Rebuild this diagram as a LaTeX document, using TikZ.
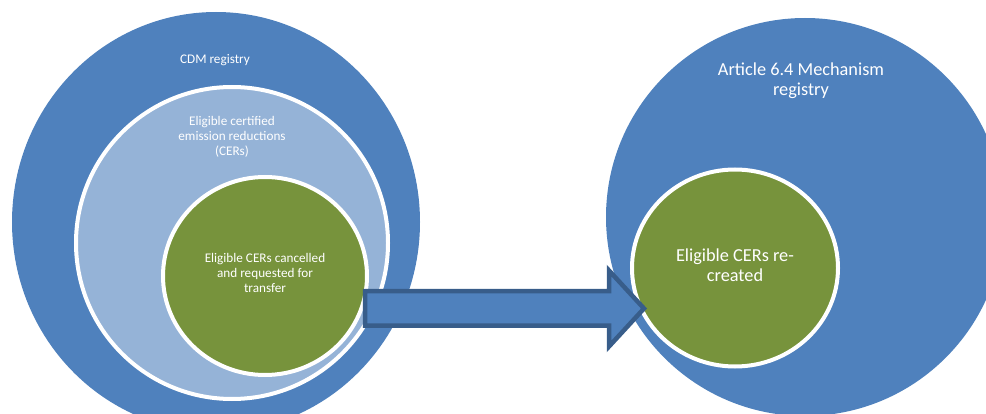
\documentclass[tikz,border=0pt]{standalone}
\usepackage{fontspec}
\setmainfont{Carlito}
\usetikzlibrary{shapes.geometric,calc}
\definecolor{regblue}{HTML}{4F81BD}
\definecolor{cerblue}{HTML}{95B3D7}
\definecolor{cergreen}{HTML}{77933C}
\definecolor{arrowblue}{HTML}{385D8A}
\begin{document}
\begin{tikzpicture}[x=1pt, y=-1pt,
    registry/.style={ellipse, fill=regblue, inner sep=0pt},
    pool/.style={circle, fill=cerblue, draw=white, line width=4pt, inner sep=0pt},
    eligible/.style={ellipse, fill=cergreen, draw=white, line width=4pt, inner sep=0pt},
    smalltext/.style={font=\fontsize{13.2}{15}\selectfont},
    largetext/.style={font=\fontsize{18.3}{19.8}\selectfont},
    transfer/.style={fill=regblue, draw=arrowblue, line width=4.5pt, line join=miter}]
  \clip (0,0) rectangle (986,414);
  \node[registry, minimum width=408, minimum height=420] (CDM) at (216,222) {};
  \node[pool, minimum size=312] (CERs) at (232,243) {};
  \node[eligible, minimum width=204, minimum height=198] (Cancelled) at (265,276) {};
  \node[registry, circle, minimum size=398] (A64) at (805,217) {};
  \node[eligible, minimum width=206, minimum height=197] (Recreated) at (735,268) {};
  \begin{scope}[every node/.style={text=white, align=center}]
    \node[smalltext] (CDMName) at (215,60) {CDM registry};
    \node[smalltext] (CERsName) at (232,137) {Eligible certified\\emission reductions\\(CERs)};
    \node[smalltext] (CancelledName) at (265,273) {Eligible CERs cancelled\\and requested for\\transfer};
    \node[largetext] (A64Name) at (801,81) {Article 6.4 Mechanism\\registry};
    \node[largetext] (RecreatedName) at (735,265) {Eligible CERs re-\\created};
  \end{scope}
  \coordinate (ArrowTail) at (365,308.5);
  \coordinate (ArrowTip) at (644,308.5);
  \draw[transfer] (ArrowTail) ++(0,-17.25) -- ($(ArrowTip)+(-35,-17.25)$)
    -- ($(ArrowTip)+(-35,-38)$) -- (ArrowTip) -- ($(ArrowTip)+(-35,38)$)
    -- ($(ArrowTip)+(-35,17.25)$) -- ($(ArrowTail)+(0,17.25)$) -- cycle;
\end{tikzpicture}
\end{document}
